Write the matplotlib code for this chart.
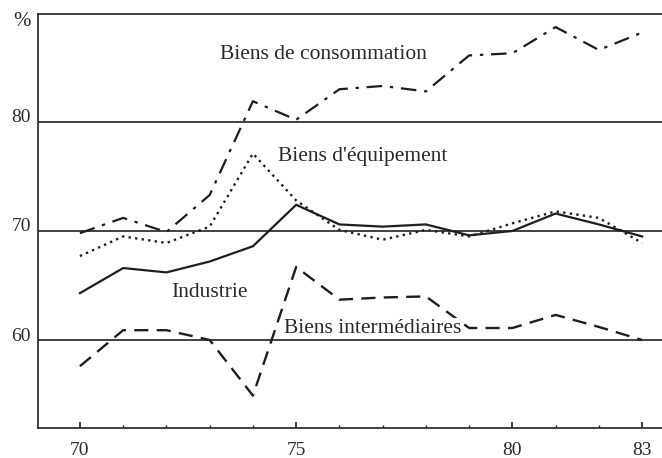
import matplotlib
matplotlib.use("Agg")
import matplotlib.pyplot as plt
import matplotlib.transforms as mtransforms

# Années 1970-1983
years = list(range(70, 84))

consommation = [69.8, 71.2, 69.9, 73.3, 81.9, 80.2, 83.0, 83.3, 82.8, 86.1, 86.3, 88.7, 86.6, 88.2]
equipement = [67.7, 69.5, 68.9, 70.4, 77.1, 72.8, 70.1, 69.2, 70.1, 69.5, 70.7, 71.8, 71.2, 68.9]
industrie = [64.3, 66.6, 66.2, 67.2, 68.6, 72.4, 70.6, 70.4, 70.6, 69.6, 70.0, 71.6, 70.6, 69.5]
intermediaires = [57.6, 60.9, 60.9, 60.0, 54.9, 66.7, 63.7, 63.9, 64.0, 61.1, 61.1, 62.3, 61.2, 60.0]

xtick_pos = [70, 75, 80, 83]
ytick_pos = [60, 70, 80]

plt.rcParams['font.family'] = ['Liberation Serif', 'DejaVu Serif']
ink = '#1e1e1e'
grey_txt = '#2a2a2a'

fig = plt.figure(figsize=(6.62, 4.58), dpi=100)
ax = fig.add_axes([38 / 662, 1 - 428 / 458, 1 - 38 / 662, (428 - 14) / 458])

# lignes horizontales de référence
for y in ytick_pos:
    ax.axhline(y, color='#333333', lw=1.3, zorder=1)

ax.plot(years, consommation, color=ink, lw=1.6, linestyle=(0, (7, 3.5, 1.5, 3.5)), zorder=3)
ax.plot(years, equipement, color=ink, lw=1.7, linestyle=(0, (1, 1.8)), zorder=3)
ax.plot(years, industrie, color=ink, lw=1.6, linestyle='-', zorder=3)
ax.plot(years, intermediaires, color=ink, lw=1.7, linestyle=(0, (6, 3.5)), zorder=3)

txt = dict(fontsize=15.5, color=grey_txt, ha='center', va='center', zorder=4)
ax.text(75.64, 86.2, 'Biens de consommation', **txt)
ax.text(76.54, 76.8, "Biens d'équipement", **txt)
ax.text(73.0, 64.4, 'Industrie', **txt)
ax.text(76.76, 61.1, 'Biens intermédiaires',
        bbox=dict(facecolor='white', edgecolor='none', pad=0.5), **txt)

ax.set_xlim(69.03, 83.46)
ax.set_ylim(51.93, 89.9)

ax.set_xticks(xtick_pos)
ax.set_xticks(years, minor=True)
ax.set_yticks(ytick_pos)
ax.tick_params(axis='x', which='major', direction='in', length=4, width=1.2, color=ink)
ax.tick_params(axis='x', which='minor', direction='in', length=2.5, width=1, color=ink)
ax.tick_params(axis='x', labelsize=14, pad=10, labelcolor=grey_txt)
ax.tick_params(axis='y', length=0, labelsize=14, pad=5, labelcolor=grey_txt)

# étiquettes de l'axe y un peu au-dessus des lignes
shift = mtransforms.ScaledTranslation(0, 6 / 100, fig.dpi_scale_trans)
for lab in ax.get_yticklabels():
    lab.set_transform(lab.get_transform() + shift)

ax.spines['right'].set_visible(False)
for s in ['top', 'left', 'bottom']:
    ax.spines[s].set_color('#333333')
    ax.spines[s].set_linewidth(1.3)

fig.text(22 / 662, 1 - 22 / 458, '%', fontsize=15, color=grey_txt, ha='center', va='center')

fig.savefig('out.png', dpi=100)
